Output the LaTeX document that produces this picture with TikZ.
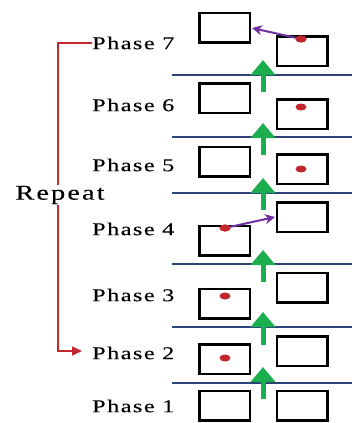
\documentclass[tikz,border=0pt]{standalone}
\usepackage{fontspec}
\setmainfont{Liberation Serif}[FakeStretch=1.35,LetterSpace=8,FakeBold=0.1]
\usetikzlibrary{arrows.meta}
\definecolor{navy}{HTML}{2E4275}
\definecolor{grn}{HTML}{1BAE4F}
\definecolor{rd}{HTML}{C1272D}
\definecolor{prp}{HTML}{7030A0}
\tikzset{
  box/.style={draw=black,line width=2.5pt,minimum width=50.5pt,minimum height=29.5pt,inner sep=0pt},
  dot/.style={fill=rd,ellipse,minimum width=11pt,minimum height=7pt,inner sep=0pt},
  sep/.style={draw=navy,line width=1.4pt},
  up/.style={draw=grn,line width=5pt,-{Triangle[width=24pt,length=15pt]}},
  mv/.style={draw=prp,line width=2pt,-{Stealth[width=10pt,length=10pt]}},
  phase/.style={anchor=west,inner sep=0pt,font=\fontsize{18pt}{18pt}\selectfont},
  rep/.style={draw=rd,line width=1.4pt}
}
\usetikzlibrary{shapes.geometric}
\begin{document}
\begin{tikzpicture}[x=1pt,y=-1pt]
\useasboundingbox (0,0) rectangle (352,423);
% boxes
\node[box] (L7) at (224.5,27.5) {};
\node[box] (R7) at (302,51) {};
\node[box] (L6) at (224.5,98) {};
\node[box] (R6) at (302,114) {};
\node[box] (L5) at (224.5,161.5) {};
\node[box] (R5) at (302,169) {};
\node[box] (L4) at (224.5,240.5) {};
\node[box] (R4) at (302,217) {};
\node[box] (L3) at (224.5,303.5) {};
\node[box] (R3) at (302,287.5) {};
\node[box] (L2) at (224.5,359) {};
\node[box] (R2) at (302,351) {};
\node[box] (L1) at (224.5,405.5) {};
\node[box] (R1) at (302,405.5) {};
% separators
\foreach \i/\y in {a/75,b/137,c/193,d/264,e/327,f/383}{
  \coordinate (s\i l) at (172,\y);
  \coordinate (s\i r) at (352,\y);
  \draw[sep] (s\i l) -- (s\i r);
}
% green arrows
\foreach \i/\t/\b in {a/60/92,b/123/155,c/178/210,d/250/282,e/312/345,f/367/399}{
  \coordinate (g\i b) at (263,\b);
  \coordinate (g\i t) at (263,\t);
  \draw[up] (g\i b) -- (g\i t);
}
% purple moves
\node[dot] (d7) at (301,39) {};
\node[dot] (d6) at (301,107) {};
\node[dot] (d5) at (301,169) {};
\node[dot] (d4) at (225,228) {};
\node[dot] (d3) at (225,296) {};
\node[dot] (d2) at (225,358) {};
\coordinate (t7) at (252,28);
\coordinate (t4) at (275,217);
\draw[mv] (d7) -- (t7);
\draw[mv] (d4) -- (t4);
\node[dot] at (d7) {};
\node[dot] at (d4) {};
% labels
\node[phase] (p7) at (92,43) {Phase 7};
\node[phase] (p6) at (92,105) {Phase 6};
\node[phase] (p5) at (92,165) {Phase 5};
\node[phase] (p4) at (92,229) {Phase 4};
\node[phase] (p3) at (92,295) {Phase 3};
\node[phase] (p2) at (92,353) {Phase 2};
\node[phase] (p1) at (92,406) {Phase 1};
% repeat
\coordinate (c1) at (58,43);
\coordinate (c2) at (58,351);
\draw[rep,-{Triangle[width=9pt,length=10pt]}] (p7.west) -- (c1) -- (c2) -- ([xshift=-10pt]p2.west |- c2);
\node[fill=white,inner sep=1pt,font=\fontsize{21pt}{21pt}\selectfont\addfontfeature{LetterSpace=10}] (rp) at (60,195) {Repeat};
\end{tikzpicture}
\end{document}
